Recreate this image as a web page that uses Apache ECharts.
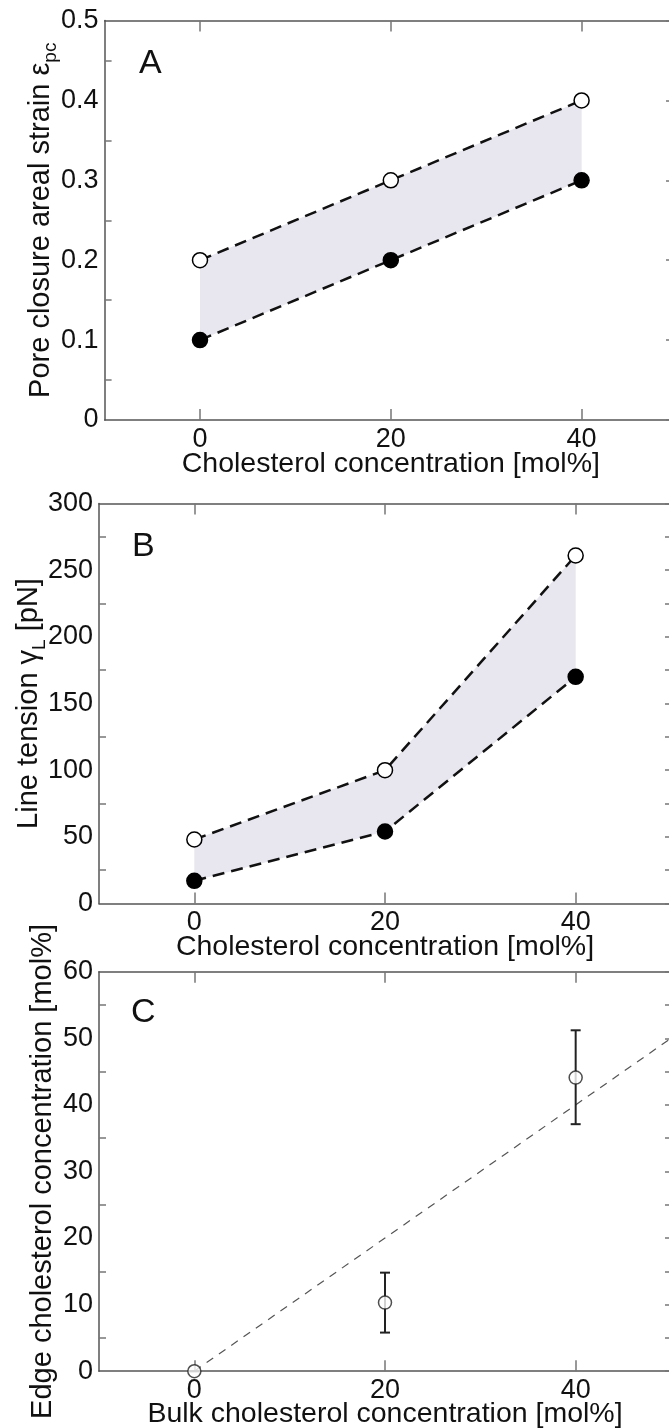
<!DOCTYPE html>
<html>
<head>
<meta charset="utf-8">
<script src="https://cdn.jsdelivr.net/npm/echarts@6/dist/echarts.min.js"></script>
<style>
html, body { margin: 0; padding: 0; background: #fff; }
#chart { width: 669px; height: 1428px; }
</style>
</head>
<body>
<div id="chart"></div>
<script>
// Cholesterol content of the membranes [mol%]
const concentration = [0, 20, 40];
const xTicks = [0, 20, 40];

// A: pore closure areal strain (upper and lower bound)
const strainUpper = [0.2, 0.3, 0.4];
const strainLower = [0.1, 0.2, 0.3];

// B: line tension [pN] (upper and lower bound)
const tensionUpper = [48, 100, 261];
const tensionLower = [17, 54, 170];

// C: edge vs bulk cholesterol concentration, with error range
const bulkConc = [0, 20, 40];
const edgeConc = [0, 10.3, 44.1];
const edgeLow = [0, 5.8, 37.1];
const edgeHigh = [0, 14.8, 51.2];
const identityLine = [[0, 0], [50, 50]];

const FONT = '"Liberation Sans", Arial, Helvetica, sans-serif';
const INK = '#111';
const AXIS_COLOR = '#555';
const TICK_COLOR = '#777';

const grids = [
  { left: 104.6, top: 20.5, width: 572.4, height: 399.5 },
  { left: 99, top: 503.5, width: 572, height: 400 },
  { left: 99, top: 971.7, width: 572, height: 399.5 }
].map(g => Object.assign({ outerBoundsMode: 'none', containLabel: false }, g));

const axisLine = { show: true, onZero: false, lineStyle: { color: AXIS_COLOR, width: 1.5 } };

function bottomAxis(g, name, gap) {
  return {
    gridIndex: g, type: 'value', position: 'bottom', min: -10, max: 50, interval: 10,
    axisLine: axisLine,
    axisTick: { show: true, inside: true, length: 11, customValues: xTicks, lineStyle: { color: TICK_COLOR, width: 1.5 } },
    axisLabel: { customValues: xTicks, fontSize: 27, color: INK, margin: 6, fontFamily: FONT },
    splitLine: { show: false },
    name: name, nameLocation: 'middle', nameGap: gap, nameMoveOverlap: false,
    nameTextStyle: { fontSize: 28.5, color: INK, fontFamily: FONT }
  };
}

function topAxis(g) {
  return {
    gridIndex: g, type: 'value', position: 'top', min: -10, max: 50, interval: 10,
    axisLine: axisLine,
    axisTick: { show: true, inside: true, length: 11, customValues: xTicks, lineStyle: { color: TICK_COLOR, width: 1.5 } },
    axisLabel: { show: false },
    splitLine: { show: false }
  };
}

function leftAxis(g, max, interval, name, gap) {
  return {
    gridIndex: g, type: 'value', position: 'left', min: 0, max: max, interval: interval,
    axisLine: axisLine,
    axisTick: { show: false, inside: true },
    minorTick: { show: true, splitNumber: 2, length: 7, lineStyle: { color: TICK_COLOR, width: 1.5 } },
    axisLabel: { fontSize: 27, color: INK, margin: 6, fontFamily: FONT },
    splitLine: { show: false }, minorSplitLine: { show: false },
    name: name, nameLocation: 'middle', nameGap: gap, nameMoveOverlap: false,
    nameTextStyle: {
      fontSize: 29, color: INK, fontFamily: FONT, lineHeight: 40,
      rich: { sub: { fontSize: 19, fontFamily: FONT, color: INK, verticalAlign: 'bottom', lineHeight: 19 } }
    }
  };
}

function rightAxis(g, max, interval, len, minor) {
  return {
    gridIndex: g, type: 'value', position: 'right', min: 0, max: max, interval: interval,
    axisLine: axisLine,
    axisTick: { show: true, inside: true, length: len, lineStyle: { color: TICK_COLOR, width: 1.5 } },
    minorTick: { show: minor, splitNumber: 2, length: len, lineStyle: { color: TICK_COLOR, width: 1.5 } },
    axisLabel: { show: false },
    splitLine: { show: false }, minorSplitLine: { show: false }
  };
}

// Shaded band between the two bounds
function bandSeries(g, upper, lower) {
  return {
    type: 'custom', xAxisIndex: 2 * g, yAxisIndex: 2 * g, z: 1, silent: true, clip: false,
    data: [[0, 0]],
    renderItem: (params, api) => {
      const top = concentration.map((c, k) => api.coord([c, upper[k]]));
      const bottom = concentration.map((c, k) => api.coord([c, lower[k]])).reverse();
      return { type: 'polygon', shape: { points: top.concat(bottom) }, style: { fill: '#e8e6ee' } };
    }
  };
}

function boundSeries(g, values, filled) {
  return {
    type: 'line', xAxisIndex: 2 * g, yAxisIndex: 2 * g, z: 3, silent: true, clip: false,
    data: concentration.map((c, k) => [c, values[k]]),
    symbol: 'circle', symbolSize: 15, showAllSymbol: true,
    itemStyle: { color: filled ? '#000' : '#fff', borderColor: '#000', borderWidth: 1.5 },
    lineStyle: { color: '#111', width: 2.5, type: [12, 7] }
  };
}

const option = {
  backgroundColor: '#fff',
  animation: false,
  grid: grids,
  xAxis: [
    bottomAxis(0, 'Cholesterol concentration [mol%]', 30), topAxis(0),
    bottomAxis(1, 'Cholesterol concentration [mol%]', 29), topAxis(1),
    bottomAxis(2, 'Bulk cholesterol concentration [mol%]', 28), topAxis(2)
  ],
  yAxis: [
    leftAxis(0, 0.5, 0.1, 'Pore closure areal strain ε{sub|pc}', 44), rightAxis(0, 0.5, 0.1, 11, false),
    leftAxis(1, 300, 50, 'Line tension γ{sub|L} [pN]', 50), rightAxis(1, 300, 50, 6, true),
    leftAxis(2, 60, 10, 'Edge cholesterol concentration [mol%]', 36), rightAxis(2, 60, 10, 6, true)
  ],
  series: [
    bandSeries(0, strainUpper, strainLower),
    boundSeries(0, strainUpper, false),
    boundSeries(0, strainLower, true),
    bandSeries(1, tensionUpper, tensionLower),
    boundSeries(1, tensionUpper, false),
    boundSeries(1, tensionLower, true),
    {
      type: 'line', xAxisIndex: 4, yAxisIndex: 4, z: 1, silent: true, clip: false,
      data: identityLine, symbol: 'none',
      lineStyle: { color: '#555', width: 1.2, type: [8, 7] }
    },
    {
      type: 'custom', xAxisIndex: 4, yAxisIndex: 4, z: 2, silent: true, clip: false,
      data: bulkConc.map((c, k) => [c, edgeLow[k], edgeHigh[k]]),
      encode: { x: 0, y: [1, 2] },
      renderItem: (params, api) => {
        const x = api.value(0);
        const lo = api.coord([x, api.value(1)]);
        const hi = api.coord([x, api.value(2)]);
        const w = 5;
        const st = { stroke: '#222', lineWidth: 2 };
        return {
          type: 'group', children: [
            { type: 'line', shape: { x1: lo[0], y1: lo[1], x2: hi[0], y2: hi[1] }, style: st },
            { type: 'line', shape: { x1: lo[0] - w, y1: lo[1], x2: lo[0] + w, y2: lo[1] }, style: st },
            { type: 'line', shape: { x1: hi[0] - w, y1: hi[1], x2: hi[0] + w, y2: hi[1] }, style: st }
          ]
        };
      }
    },
    {
      type: 'scatter', xAxisIndex: 4, yAxisIndex: 4, z: 3, silent: true, clip: false,
      data: bulkConc.map((c, k) => [c, edgeConc[k]]),
      symbol: 'circle', symbolSize: 13,
      itemStyle: { color: '#fff', borderColor: '#222', borderWidth: 1.5 }
    }
  ],
  graphic: [
    { type: 'text', left: 139, top: 47, style: { text: 'A', fontSize: 34, fill: INK, fontFamily: FONT } },
    { type: 'text', left: 132, top: 530, style: { text: 'B', fontSize: 34, fill: INK, fontFamily: FONT } },
    { type: 'text', left: 131, top: 996, style: { text: 'C', fontSize: 34, fill: INK, fontFamily: FONT } }
  ]
};

const chart = echarts.init(document.getElementById('chart'), null, { renderer: 'canvas' });
chart.setOption(option);
</script>
</body>
</html>
